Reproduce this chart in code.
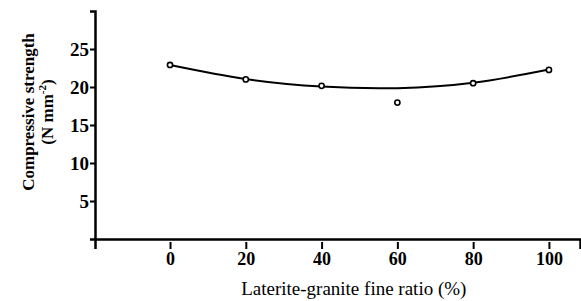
<!DOCTYPE html>
<html>
<head>
<meta charset="utf-8">
<script src="https://cdn.jsdelivr.net/npm/d3@7"></script>
<style>
  body { margin: 0; background: #fff; }
  svg { display: block; }
</style>
</head>
<body>
<div id="chart"></div>
<script>
// Measured points (laterite-granite fine ratio %, compressive strength N/mm2)
const ratios = [0, 20, 40, 60, 80, 100];
const strengths = [22.9, 21.0, 20.15, 17.95, 20.5, 22.25];

// Trend curve
const curveRatios = [0, 20, 40, 60, 80, 100];
const curveStrengths = [22.9, 21.05, 20.05, 19.85, 20.55, 22.3];

const xTicks = [0, 20, 40, 60, 80, 100];
const yTicks = [5, 10, 15, 20, 25];

const width = 581;
const height = 301;
const margin = { left: 95, right: 1, top: 11, bottom: 62 };
const serif = 'Liberation Serif, Times New Roman, DejaVu Serif, serif';

const svg = d3
  .select('#chart')
  .append('svg')
  .attr('width', width)
  .attr('height', height)
  .attr('font-family', serif);

const xscale = d3
  .scaleLinear()
  .domain([-19.8, 108.2])
  .range([margin.left, width - margin.right]);

const yscale = d3
  .scaleLinear()
  .domain([0, 30])
  .range([height - margin.bottom, margin.top]);

// Axes
const xAxis = d3
  .axisBottom(xscale)
  .tickValues(xTicks)
  .tickSizeOuter(0)
  .tickSize(10)
  .tickPadding(3);

const gx = svg
  .append('g')
  .attr('transform', `translate(0, ${yscale(0)})`)
  .call(xAxis)
  .attr('font-family', null);

gx.select('.domain').attr('stroke-width', 2.5);
gx.selectAll('.tick line').attr('y1', 3).attr('stroke-width', 2);
gx.selectAll('.tick text')
  .style('font-family', serif)
  .style('font-size', '18px')
  .style('font-weight', 'bold')
  .attr('fill', '#000');

const yAxis = d3
  .axisLeft(yscale)
  .tickValues(yTicks)
  .tickSizeOuter(0)
  .tickSize(5)
  .tickPadding(1);

const gy = svg
  .append('g')
  .attr('transform', `translate(${margin.left}, 0)`)
  .call(yAxis)
  .attr('font-family', null);

gy.select('.domain').attr('stroke-width', 2.5);
gy.selectAll('.tick line').attr('stroke-width', 2);
gy.selectAll('.tick text')
  .style('font-family', serif)
  .style('font-size', '19px')
  .style('font-weight', 'bold')
  .attr('fill', '#000');

// Trend curve
const line = d3
  .line()
  .x((d) => xscale(d[0]))
  .y((d) => yscale(d[1]))
  .curve(d3.curveNatural);

svg
  .append('path')
  .datum(d3.zip(curveRatios, curveStrengths))
  .attr('d', line)
  .attr('fill', 'none')
  .attr('stroke', '#000')
  .attr('stroke-width', 2);

// Data points
svg
  .selectAll('circle.pt')
  .data(d3.zip(ratios, strengths))
  .enter()
  .append('circle')
  .attr('class', 'pt')
  .attr('cx', (d) => xscale(d[0]))
  .attr('cy', (d) => yscale(d[1]))
  .attr('r', 2.6)
  .attr('fill', '#fff')
  .attr('stroke', '#000')
  .attr('stroke-width', 1.6);

// Axis titles
svg
  .append('text')
  .attr('x', xscale(48.5))
  .attr('y', 295)
  .attr('text-anchor', 'middle')
  .style('font-family', serif)
  .style('font-size', '19px')
  .text('Laterite-granite fine ratio (%)');

const yTitle = svg
  .append('text')
  .attr('transform', `translate(34, 112) rotate(-90)`)
  .attr('text-anchor', 'middle')
  .style('font-family', serif)
  .style('font-size', '17px')
  .style('font-weight', 'bold');

yTitle.append('tspan').attr('x', 0).attr('y', 0).text('Compressive strength');
yTitle.append('tspan').attr('x', 0).attr('y', 19).text('(N mm');
yTitle.append('tspan').attr('dy', -7).style('font-size', '11px').text('-2');
yTitle.append('tspan').attr('dy', 7).text(')');
</script>
</body>
</html>
